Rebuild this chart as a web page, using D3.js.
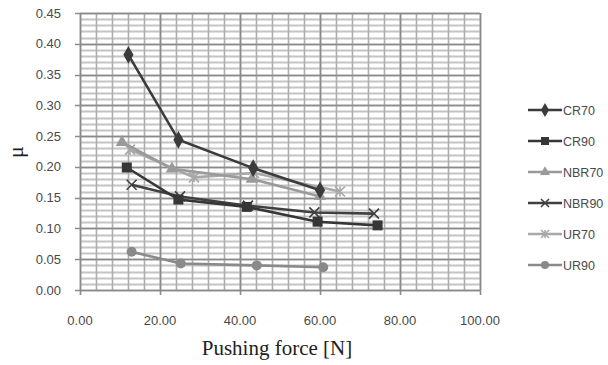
<!DOCTYPE html>
<html><head><meta charset="utf-8">
<script src="https://cdn.jsdelivr.net/npm/d3@7"></script>
<style>body{margin:0;background:#fff}svg{display:block}</style>
</head><body>
<svg id="c" width="608" height="365"></svg>
<script>
const seriesNames = ["CR70","CR90","NBR70","NBR90","UR70","UR90"];
const cr70X = [12.1, 24.6, 43.3, 60.0];
const cr70Y = [0.382, 0.244, 0.198, 0.162];
const cr90X = [11.7, 24.6, 41.7, 59.4, 74.4];
const cr90Y = [0.199, 0.147, 0.135, 0.111, 0.105];
const nbr70X = [10.5, 23.0, 43.0, 60.0];
const nbr70Y = [0.240, 0.197, 0.180, 0.152];
const nbr90X = [12.9, 25.0, 42.0, 58.6, 73.5];
const nbr90Y = [0.171, 0.152, 0.137, 0.126, 0.124];
const ur70X = [12.5, 28.5, 43.5, 65.0];
const ur70Y = [0.228, 0.183, 0.190, 0.160];
const ur90X = [12.9, 25.2, 44.2, 60.8];
const ur90Y = [0.062, 0.043, 0.040, 0.037];
const xTicks = [0, 20, 40, 60, 80, 100];
const yTicks = [0, 0.05, 0.10, 0.15, 0.20, 0.25, 0.30, 0.35, 0.40, 0.45];

const series = [
  {name:"CR70", xs:cr70X, ys:cr70Y, color:"#3b3b3b", marker:"diamond"},
  {name:"CR90", xs:cr90X, ys:cr90Y, color:"#363636", marker:"square"},
  {name:"NBR70", xs:nbr70X, ys:nbr70Y, color:"#9a9a9a", marker:"triangle"},
  {name:"NBR90", xs:nbr90X, ys:nbr90Y, color:"#404040", marker:"x"},
  {name:"UR70", xs:ur70X, ys:ur70Y, color:"#a8a8a8", marker:"star"},
  {name:"UR90", xs:ur90X, ys:ur90Y, color:"#8a8a8a", marker:"circle"}
];

const svg = d3.select("#c");
const x = d3.scaleLinear().domain([0,100]).range([80,480]);
const y = d3.scaleLinear().domain([0,0.45]).range([290,13]);

// grid
const g = svg.append("g");
const minorY = d3.range(0, 0.4501, 0.01);
const minorX = d3.range(0, 100.01, 4);
g.selectAll("line.my").data(minorY).join("line")
  .attr("x1",80).attr("x2",480).attr("y1",d=>Math.round(y(d))+0.5).attr("y2",d=>Math.round(y(d))+0.5)
  .attr("stroke","#c4c4c4").attr("stroke-width",2);
g.selectAll("line.mx").data(minorX).join("line")
  .attr("y1",13).attr("y2",290).attr("x1",d=>Math.round(x(d))+0.5).attr("x2",d=>Math.round(x(d))+0.5)
  .attr("stroke","#adadad").attr("stroke-width",1.6);
g.selectAll("line.My").data(yTicks).join("line")
  .attr("x1",75).attr("x2",480).attr("y1",d=>Math.round(y(d))+0.5).attr("y2",d=>Math.round(y(d))+0.5)
  .attr("stroke","#8a8a8a").attr("stroke-width",1.6);
g.selectAll("line.Mx").data(xTicks).join("line")
  .attr("y1",13).attr("y2",295).attr("x1",d=>Math.round(x(d))+0.5).attr("x2",d=>Math.round(x(d))+0.5)
  .attr("stroke","#8a8a8a").attr("stroke-width",1.6);

// axes labels
const lab = "'Liberation Sans Narrow','Liberation Sans',Arial,sans-serif";
svg.append("g").selectAll("text").data(yTicks).join("text")
  .attr("x",61).attr("y",d=>y(d)+4.5).attr("text-anchor","end")
  .attr("font-family",lab).attr("font-size",13).attr("fill","#4a4a4a")
  .text(d=>d3.format(".2f")(d));
svg.append("g").selectAll("text").data(xTicks).join("text")
  .attr("x",d=>x(d)).attr("y",325).attr("text-anchor","middle")
  .attr("font-family",lab).attr("font-size",13).attr("fill","#4a4a4a")
  .text(d=>d3.format(".2f")(d));

svg.append("text").attr("transform","translate(23,152) rotate(-90)")
  .attr("text-anchor","middle").attr("font-family","'Liberation Serif','Times New Roman',serif")
  .attr("font-size",22).attr("fill","#222").text("μ");
svg.append("text").attr("x",277).attr("y",355).attr("text-anchor","middle")
  .attr("font-family","'Liberation Serif','Times New Roman',serif")
  .attr("font-size",21).attr("fill","#222").text("Pushing force [N]");

function drawMarker(sel, type, color, s){
  if(type==="diamond"){
    sel.append("path").attr("d",d3.symbol(d3.symbolDiamond, s*s*0.9)()).attr("fill",color);
  } else if(type==="square"){
    sel.append("rect").attr("x",-s/2).attr("y",-s/2).attr("width",s).attr("height",s).attr("fill",color);
  } else if(type==="triangle"){
    sel.append("path").attr("d",d3.symbol(d3.symbolTriangle, s*s*0.7)()).attr("fill",color);
  } else if(type==="x"){
    const h=s/2;
    sel.append("path").attr("d",`M${-h},${-h}L${h},${h}M${-h},${h}L${h},${-h}`).attr("stroke",color).attr("stroke-width",1.6);
  } else if(type==="star"){
    const h=s/2;
    sel.append("path").attr("d",`M${-h},${-h}L${h},${h}M${-h},${h}L${h},${-h}M0,${-h}L0,${h}`).attr("stroke",color).attr("stroke-width",1.6);
  } else if(type==="circle"){
    sel.append("circle").attr("r",s/2).attr("fill",color);
  }
}

const line = d3.line().x(d=>x(d[0])).y(d=>y(d[1]));
const order = [5,4,2,3,1,0];
order.forEach(i=>{
  const s = series[i];
  const pts = s.xs.map((v,k)=>[v, s.ys[k]]);
  svg.append("path").attr("d",line(pts)).attr("fill","none")
    .attr("stroke",s.color).attr("stroke-width",2.6);
  pts.forEach(p=>{
    const m = svg.append("g").attr("transform",`translate(${x(p[0])},${y(p[1])})`);
    drawMarker(m, s.marker, s.color, 10);
  });
});

// legend
const lg = svg.append("g");
series.forEach((s,i)=>{
  const yy = 110 + i*31;
  lg.append("line").attr("x1",528).attr("x2",562).attr("y1",yy).attr("y2",yy)
    .attr("stroke",s.color).attr("stroke-width",2.6);
  const m = lg.append("g").attr("transform",`translate(545,${yy})`);
  drawMarker(m, s.marker, s.color, 8);
  lg.append("text").attr("x",563).attr("y",yy+4.5)
    .attr("font-family",lab).attr("font-size",12.5).attr("fill","#4a4a4a").text(s.name);
});
</script>
</body></html>
